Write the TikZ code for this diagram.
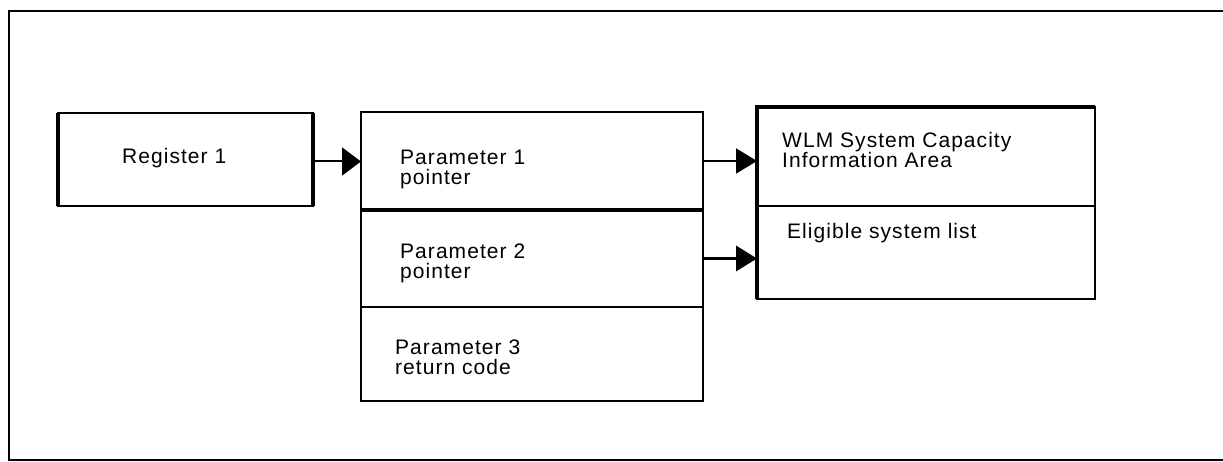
\documentclass[tikz,border=0pt]{standalone}
\usepackage{fontspec}
\setmainfont{Liberation Sans}
\newfontfamily\diafont[LetterSpace=5]{Liberation Sans}
\usetikzlibrary{arrows.meta}
\begin{document}
\begin{tikzpicture}[x=1pt,y=-1pt,
  box/.style={draw, line width=1.5pt, inner sep=0pt, outer sep=0pt, rectangle},
  lbl/.style={font=\diafont\fontsize{21}{19.5}\selectfont, align=left, inner sep=0pt, anchor=north west, text=black},
  thickedge/.style={line width=3.5pt},
  conn/.style={line width=2pt, -{Triangle[length=21pt,width=25pt]}}]
\useasboundingbox (0,0) rectangle (1223,462);
\draw[line width=2pt] (1230,11) -- (9,11) -- (9,460) -- (1230,460);
% boxes
\node[box, minimum width=255pt, minimum height=93pt] (reg) at (185.5,159.5) {};
\node[box, minimum width=342pt, minimum height=98pt] (p1) at (532,161) {};
\node[box, minimum width=342pt, minimum height=97pt] (p2) at (532,258.5) {};
\node[box, minimum width=342pt, minimum height=94pt] (p3) at (532,354) {};
\node[box, minimum width=338pt, minimum height=99pt] (wlm) at (926,156.5) {};
\node[box, minimum width=338pt, minimum height=93pt] (elig) at (926,252.5) {};
% heavy edges
\draw[thickedge] (reg.north west) -- (reg.south west);
\draw[thickedge] (reg.north east) -- (reg.south east);
\draw[thickedge] (p1.south west) -- (p1.south east);
\draw[thickedge] (elig.south west) -- (wlm.north west) -- (wlm.north east);
% labels
\node[lbl] (treg) at (122,148) {Register 1};
\node[lbl] (tp1) at (400,150) {Parameter 1\\pointer};
\node[lbl] (tp2) at (400,244) {Parameter 2\\pointer};
\node[lbl] (tp3) at (395,340) {Parameter 3\\return code};
\node[lbl, font=\diafont\fontsize{21}{17.5}\selectfont] (twlm) at (782,132) {WLM System Capacity\\Information Area};
\node[lbl] (telig) at (787,223) {Eligible system list};
% connectors
\draw[conn, -{Triangle[length=19pt,width=28pt]}] ([yshift=-2pt]reg.east) -- ([yshift=-2pt]reg.east -| p1.west);
\draw[conn] (p1.east) -- (p1.east -| wlm.west);
\draw[conn, line width=3.5pt] (p2.east) -- (p2.east -| elig.west);
\end{tikzpicture}
\end{document}
